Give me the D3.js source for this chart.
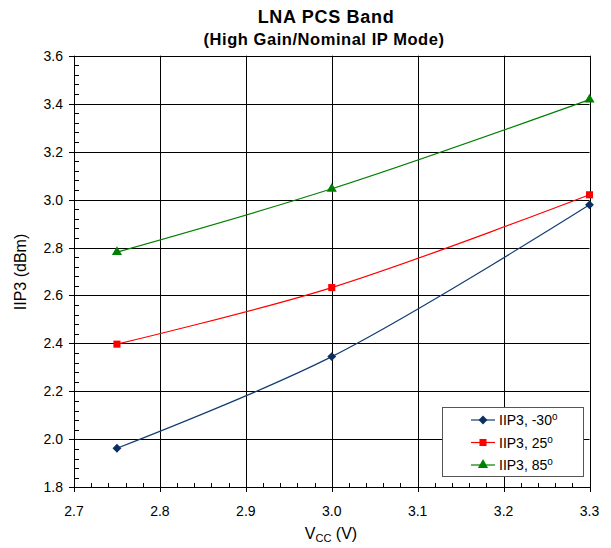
<!DOCTYPE html>
<html><head><meta charset="utf-8">
<script src="https://cdn.jsdelivr.net/npm/d3@7"></script>
<style>body{margin:0;background:#fff}svg{display:block;font-family:"Liberation Sans",Arial,sans-serif}</style>
</head><body><svg id="c" width="611" height="548"></svg>
<script>
const vcc = [2.75, 3.0, 3.3];
const iip3Minus30 = [1.963, 2.345, 2.978];
const iip3At25 = [2.397, 2.633, 3.02];
const iip3At85 = [2.781, 3.045, 3.417];
const seriesNames = ["IIP3, -30", "IIP3, 25", "IIP3, 85"];
const xTicks = [2.7, 2.8, 2.9, 3.0, 3.1, 3.2, 3.3];
const yTicks = [1.8, 2.0, 2.2, 2.4, 2.6, 2.8, 3.0, 3.2, 3.4, 3.6];

const svg = d3.select("#c");
const L = 74, R = 589.5, T = 55.7, B = 487.3;
const x = d3.scaleLinear().domain([2.7, 3.3]).range([L, R]);
const y = d3.scaleLinear().domain([1.8, 3.6]).range([B, T]);

// grid
const g = svg.append("g");
g.selectAll(".hg").data(yTicks).join("line")
  .attr("x1", L).attr("x2", R).attr("y1", d => Math.round(y(d)) + 0.5).attr("y2", d => Math.round(y(d)) + 0.5)
  .attr("stroke", "#000").attr("stroke-width", 1);
g.selectAll(".vg").data(xTicks).join("line")
  .attr("y1", T).attr("y2", B).attr("x1", d => Math.round(x(d)) + 0.5).attr("x2", d => Math.round(x(d)) + 0.5)
  .attr("stroke", "#000").attr("stroke-width", 1);
g.append("rect").attr("x", Math.round(L) + 0.5).attr("y", Math.round(T) + 0.5)
  .attr("width", Math.round(R) - Math.round(L)).attr("height", Math.round(B) - Math.round(T))
  .attr("fill", "none").attr("stroke", "#000");

// minor ticks
const xMinor = d3.range(2.7, 3.3001, 0.02);
g.selectAll(".xm").data(xMinor).join("line")
  .attr("x1", d => Math.round(x(d)) + 0.5).attr("x2", d => Math.round(x(d)) + 0.5)
  .attr("y1", Math.round(B) + 0.5).attr("y2", Math.round(B) - 4).attr("stroke", "#000");
const yMinor = d3.range(1.8, 3.6001, 0.04);
g.selectAll(".ym").data(yMinor).join("line")
  .attr("y1", d => Math.round(y(d)) + 0.5).attr("y2", d => Math.round(y(d)) + 0.5)
  .attr("x1", Math.round(L) + 0.5).attr("x2", Math.round(L) + 5).attr("stroke", "#000");
// major ticks outside
g.selectAll(".xM").data(xTicks).join("line")
  .attr("x1", d => Math.round(x(d)) + 0.5).attr("x2", d => Math.round(x(d)) + 0.5)
  .attr("y1", Math.round(B)).attr("y2", Math.round(B) + 5).attr("stroke", "#000");
g.selectAll(".yM").data(yTicks).join("line")
  .attr("y1", d => Math.round(y(d)) + 0.5).attr("y2", d => Math.round(y(d)) + 0.5)
  .attr("x1", Math.round(L) - 5).attr("x2", Math.round(L)).attr("stroke", "#000");

// tick labels
svg.selectAll(".xl").data(xTicks).join("text")
  .attr("x", d => x(d)).attr("y", 516).attr("text-anchor", "middle")
  .attr("font-size", 14).attr("fill", "#000").text(d => d.toFixed(1));
svg.selectAll(".yl").data(yTicks).join("text")
  .attr("x", 63).attr("y", d => y(d) + 5).attr("text-anchor", "end")
  .attr("font-size", 14).attr("fill", "#000").text(d => d.toFixed(1));

// titles
svg.append("text").attr("x", 326).attr("y", 23).attr("text-anchor", "middle")
  .attr("font-size", 18).attr("letter-spacing", 0.7).attr("font-weight", "bold").text("LNA PCS Band");
svg.append("text").attr("x", 324).attr("y", 45).attr("text-anchor", "middle")
  .attr("font-size", 16.5).attr("letter-spacing", 0.55).attr("font-weight", "bold").text("(High Gain/Nominal IP Mode)");
svg.append("text").attr("transform", "translate(26," + 272 + ") rotate(-90)")
  .attr("text-anchor", "middle").attr("font-size", 16).text("IIP3 (dBm)");
const xl = svg.append("text").attr("x", 331).attr("y", 539).attr("text-anchor", "middle").attr("font-size", 16);
xl.append("tspan").text("V");
xl.append("tspan").attr("font-size", 11).attr("dy", 3).text("CC");
xl.append("tspan").attr("dy", -3).text(" (V)");

// series
const diamond = {draw(ctx, size) { const r = Math.sqrt(size) / 2 * 1.25; ctx.moveTo(0, -r); ctx.lineTo(r, 0); ctx.lineTo(0, r); ctx.lineTo(-r, 0); ctx.closePath(); }};
const series = [
  {vals: iip3Minus30, color: "#123E73", mcolor: "#0B2F5E", marker: diamond, size: 50},
  {vals: iip3At25, color: "#FF0000", mcolor: "#FF0000", marker: d3.symbolSquare, size: 50},
  {vals: iip3At85, color: "#008000", mcolor: "#008000", marker: d3.symbolTriangle, size: 45}
];
const line = d3.line().x(d => x(d[0])).y(d => y(d[1])).curve(d3.curveCatmullRom.alpha(0.5));
series.forEach((s, i) => {
  const pts = vcc.map((v, j) => [v, s.vals[j]]);
  svg.append("path").attr("d", line(pts)).attr("fill", "none").attr("stroke", s.color).attr("stroke-width", 1.2);
  svg.selectAll(".m" + i).data(pts).join("path")
    .attr("transform", d => "translate(" + x(d[0]) + "," + y(d[1]) + ")")
    .attr("d", d3.symbol().type(s.marker).size(s.size)).attr("fill", s.mcolor);
});

// legend
const lg = svg.append("g");
lg.append("rect").attr("x", 442.5).attr("y", 407.5).attr("width", 141).attr("height", 69)
  .attr("fill", "#fff").attr("stroke", "#555").attr("stroke-width", 1);
series.forEach((s, i) => {
  const yy = 420 + i * 22.5;
  lg.append("line").attr("x1", 471).attr("x2", 495).attr("y1", yy).attr("y2", yy).attr("stroke", s.color).attr("stroke-width", 1.2);
  lg.append("path").attr("transform", "translate(483," + yy + ")")
    .attr("d", d3.symbol().type(s.marker).size(s.size)).attr("fill", s.mcolor);
  const t = lg.append("text").attr("x", 499).attr("y", yy + 5).attr("font-size", 14).attr("fill", "#000");
  t.append("tspan").text(seriesNames[i]);
  t.append("tspan").attr("font-size", 10).attr("dy", -5).text("o");
});
</script></body></html>
